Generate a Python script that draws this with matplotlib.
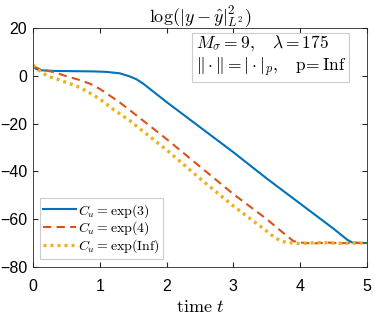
import matplotlib
matplotlib.use("Agg")
import matplotlib.pyplot as plt

plt.rcParams['mathtext.fontset'] = 'cm'
plt.rcParams['font.family'] = ['Liberation Sans', 'DejaVu Sans']

# values
t_blue = [0, 0.05, 0.1, 0.3, 0.6, 0.9, 1.1, 1.3, 1.45, 1.55, 1.65, 1.75, 2.0, 2.5,
          3.0, 3.5, 4.0, 4.5, 4.7, 4.78, 4.9, 5.0]
v_blue = [4.0, 2.8, 2.3, 2.0, 1.9, 1.8, 1.6, 1.0, -0.3, -1.5, -3.3, -5.5, -11, -21.5,
          -32, -43, -53.5, -64, -68.5, -69.8, -70, -70]

t_red = [0, 0.1, 0.2, 0.35, 0.5, 0.7, 0.85, 1.0, 1.15, 1.3, 1.5, 1.75, 2.0, 2.5,
         3.0, 3.5, 3.8, 3.9, 4.0, 4.2, 4.4, 4.6, 4.8, 5.0]
v_red = [4.0, 2.8, 2.2, 1.2, -0.2, -1.8, -3.3, -5.5, -8.3, -11.2, -15.5, -21, -26.5, -38,
         -49.5, -60, -67, -69.2, -69.8, -70.2, -69.8, -70.1, -69.9, -70]

t_yel = [0, 0.05, 0.15, 0.25, 0.4, 0.55, 0.7, 0.85, 1.0, 1.2, 1.45, 1.75, 2.0, 2.5,
         3.0, 3.5, 3.6, 3.7, 3.8, 4.0, 4.3, 4.6, 5.0]
v_yel = [4.5, 3.0, 1.0, -0.4, -1.8, -3.3, -4.9, -7.2, -9.7, -14, -18.8, -25.5, -31, -43,
         -54.5, -65, -67.3, -69, -69.8, -70.2, -69.8, -70.1, -70]

labels = [r'$C_u = \mathrm{exp}(3)$', r'$C_u = \mathrm{exp}(4)$', r'$C_u = \mathrm{exp}(\mathrm{Inf})$']

fig = plt.figure(figsize=(3.74, 3.17), dpi=100)
ax = fig.add_axes([0.088, 0.158, 0.893, 0.754])

ax.plot(t_blue, v_blue, color='#0072BD', lw=1.5, label=labels[0])
ax.plot(t_red, v_red, color='#D95319', lw=1.5, ls=(0, (4, 2.5)), label=labels[1])
ax.plot(t_yel, v_yel, color='#EDB120', lw=2.4, ls=(0, (0.9, 1.2)), label=labels[2])

ax.set_xlim(0, 5)
ax.set_ylim(-80, 20)
ax.set_xticks([0, 1, 2, 3, 4, 5])
ax.set_yticks([-80, -60, -40, -20, 0, 20])
ax.tick_params(direction='in', top=True, right=True, labelsize=11.5, length=3.5,
               color='#262626')
ax.tick_params(axis='x', pad=9)
ax.tick_params(axis='y', pad=4)
for s in ax.spines.values():
    s.set_color('#262626')
    s.set_linewidth(0.6)

ax.set_xlabel(r'$\mathrm{time}\ t$', fontsize=13, labelpad=3)
ax.set_title(r'$\log(|y - \hat{y}|^2_{L^2})$', fontsize=13, pad=4)

ax.text(0.487, 0.975,
        r'$M_\sigma = 9, \quad \lambda = 175$' + '\n' +
        r'$\Vert\cdot\Vert = |\cdot|_p, \quad \mathrm{p}\!=\mathrm{Inf}\ \ \ $',
        transform=ax.transAxes, va='top', ha='left', fontsize=12.5, linespacing=1.1,
        bbox=dict(boxstyle='square,pad=0.2', fc='white', ec='#cccccc', lw=0.8))

leg = ax.legend(loc='lower left', bbox_to_anchor=(0.02, 0.035), borderaxespad=0,
                fontsize=10, handlelength=2.4, handletextpad=0.1, labelspacing=0.0,
                borderpad=0.25, fancybox=False, framealpha=1)
leg.get_frame().set_edgecolor('#cccccc')
leg.get_frame().set_linewidth(0.8)

fig.savefig('out.png', dpi=100)
